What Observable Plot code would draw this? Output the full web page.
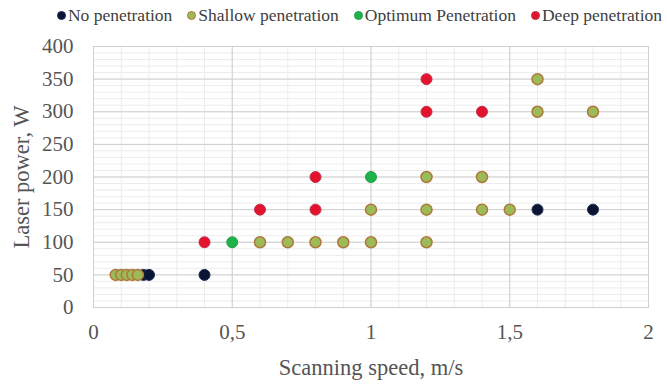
<!DOCTYPE html>
<html><head><meta charset="utf-8">
<script src="https://cdn.jsdelivr.net/npm/d3@7"></script>
<script src="https://cdn.jsdelivr.net/npm/@observablehq/plot@0.6"></script>
<style>
body{margin:0;background:#fff;font-family:"Liberation Serif",serif;}
#legend{height:30px;display:flex;align-items:center;justify-content:flex-end;padding-right:5px;gap:15px;font-size:17.5px;color:#404040;font-family:"Liberation Serif",serif;}
#legend span.sw{display:inline-block;width:9px;height:9px;border-radius:50%;margin-right:2px;vertical-align:1px;box-sizing:border-box;}
</style></head>
<body>
<div id="legend"></div>
<div id="chart"></div>
<script>
const categories = ["No penetration","Shallow penetration","Optimum Penetration","Deep penetration"];
const fills = ["#0b1430","#9bbb59","#1fb24a","#e3122d"];
const strokes = ["#1a2b55","#b0783a","#22a045","#c0304a"];

const speed = [0.18,0.20,0.40,1.60,1.80,
  0.08,0.10,0.12,0.14,0.16,0.6,0.7,0.8,0.9,1.0,1.2,1.0,1.2,1.4,1.5,1.2,1.4,1.6,1.8,1.6,
  0.5,1.0,
  0.4,0.6,0.8,0.8,1.2,1.4,1.2];
const power = [50,50,50,150,150,
  50,50,50,50,50,100,100,100,100,100,100,150,150,150,150,200,200,300,300,350,
  100,200,
  100,150,150,200,300,300,350];
const cls = [0,0,0,0,0,
  1,1,1,1,1,1,1,1,1,1,1,1,1,1,1,1,1,1,1,1,
  2,2,
  3,3,3,3,3,3,3];

const xTicks = [0,0.5,1,1.5,2];
const yTicks = [0,50,100,150,200,250,300,350,400];

const data = speed.map((s,i)=>({x:s,y:power[i],c:cls[i]}));

const leg = document.getElementById("legend");
categories.forEach((c,i)=>{
  const d=document.createElement("div");
  d.innerHTML=`<span class="sw" style="background:${fills[i]};border:${i==1?'1.5px':'1px'} solid ${strokes[i]}"></span>${c}`;
  leg.appendChild(d);
});

const fmt = d => String(d).replace(".",",");
const ff = "Liberation Serif, serif";
const plot = Plot.plot({
  width:667, height:354,
  marginTop:16, marginBottom:77, marginLeft:93, marginRight:19,
  style:{fontFamily:ff, fontSize:"20px", color:"#555"},
  x:{domain:[0,2], ticks:xTicks, tickFormat:fmt, label:null},
  y:{domain:[0,400], ticks:yTicks, label:null},
  marks:[
    Plot.ruleX(d3.range(0,2.001,0.1).map(v=>+v.toFixed(1)),{stroke:"#ececec"}),
    Plot.ruleY(d3.range(0,401,10),{stroke:"#ececec"}),
    Plot.ruleX(xTicks,{stroke:"#cfcfcf"}),
    Plot.ruleY(yTicks,{stroke:"#cfcfcf"}),
    Plot.frame({stroke:"#d0d0d0"}),
    Plot.axisX({ticks:xTicks, tickFormat:fmt, tickSize:0, tickPadding:17, fontSize:21, fontFamily:ff, fill:"#555"}),
    Plot.axisY({ticks:yTicks, tickSize:0, tickPadding:20, fontSize:21, fontFamily:ff, fill:"#555"}),
    Plot.text(["Scanning speed, m/s"],{frameAnchor:"bottom", dy:67, fontSize:22.5, fontFamily:ff, fill:"#555"}),
    Plot.text(["Laser power, W"],{frameAnchor:"left", dx:-72, rotate:-90, textAnchor:"middle", fontSize:22.5, fontFamily:ff, fill:"#555"}),
    ...[0,2,3,1].map(k=>Plot.dot(data.filter(d=>d.c===k),{x:"x",y:"y",r:5.5,fill:fills[k],stroke:strokes[k],strokeWidth:k===1?1.5:1}))
  ]
});
document.getElementById("chart").appendChild(plot);
</script>
</body></html>
